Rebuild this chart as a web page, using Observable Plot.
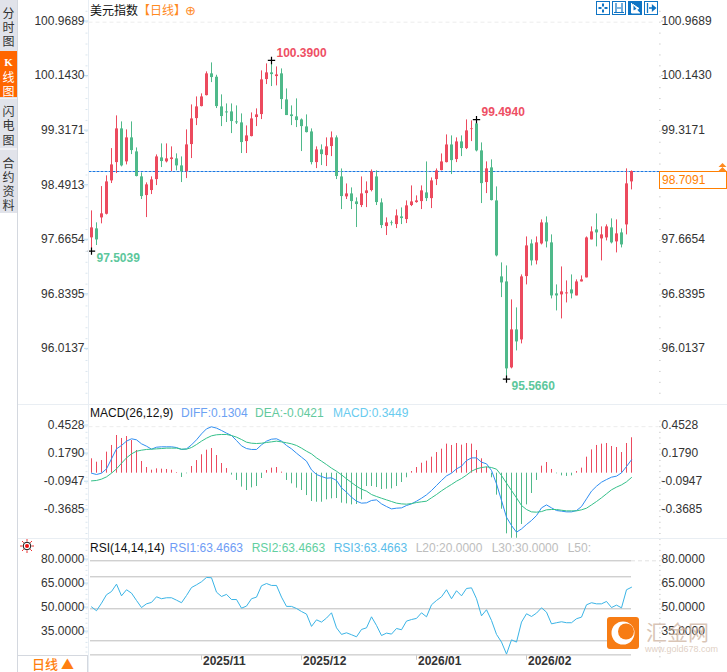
<!DOCTYPE html>
<html><head><meta charset="utf-8">
<script src="https://cdn.jsdelivr.net/npm/d3@7"></script>
<script src="https://cdn.jsdelivr.net/npm/@observablehq/plot@0.6"></script>
<style>
html,body{margin:0;padding:0;background:#fff;width:727px;height:672px;overflow:hidden}
body{position:relative;font-family:"Liberation Sans",Arial,sans-serif;font-size:12px}
.p{position:absolute;left:0}
.p svg{display:block;background:transparent}
.t{position:absolute;white-space:nowrap;line-height:14px}
.cn{font-family:"Noto Sans CJK SC",sans-serif}
.box{position:absolute}
</style></head><body>
<div id="price" class="p" style="top:0"></div>
<div id="macd" class="p" style="top:404px"></div>
<div id="rsi" class="p" style="top:538px"></div>
<script>
const opens=[97.705,97.841,98.007,98.062,98.567,98.844,99.354,98.855,99.218,99.006,
98.628,98.345,98.421,98.587,98.915,98.855,98.890,98.900,98.794,98.708,
99.117,99.510,99.692,99.858,100.187,100.136,99.687,99.611,99.611,99.460,
99.445,99.162,99.238,99.526,99.571,100.101,100.202,100.146,100.187,99.793,
99.566,99.536,99.490,99.384,99.308,98.844,99.036,98.950,99.087,99.218,
98.627,98.325,98.370,98.249,98.194,98.375,98.421,98.627,98.234,97.876,
97.931,97.906,98.022,97.982,98.194,98.239,98.254,98.385,98.299,98.587,
98.723,98.844,99.111,98.890,99.157,99.056,99.344,99.430,99.021,98.542,
98.764,98.264,97.114,97.038,95.737,96.312,96.160,97.119,97.613,97.356,
97.613,97.931,97.629,96.857,96.842,96.857,96.917,96.826,97.038,97.099,
97.674,97.825,97.689,97.704,97.856,97.644,97.780,97.901,98.552];
const closes=[97.856,97.674,98.068,98.552,98.809,99.354,98.794,99.218,99.026,98.633,
98.330,98.507,98.582,98.930,98.860,98.900,98.915,98.794,98.708,99.112,
99.505,99.687,99.838,100.187,100.131,99.692,99.541,99.596,99.465,99.445,
99.147,99.248,99.505,99.566,100.096,100.202,100.176,100.171,99.798,99.556,
99.541,99.480,99.389,99.298,98.844,99.036,98.965,99.082,99.218,98.633,
98.330,98.370,98.254,98.209,98.370,98.416,98.703,98.239,97.891,97.931,
97.921,98.037,97.997,98.189,98.249,98.264,98.416,98.299,98.567,98.718,
98.854,99.111,98.874,99.157,99.056,99.324,99.354,99.021,98.526,98.749,
98.269,97.432,97.023,95.722,96.312,96.130,97.114,97.583,97.356,97.629,
97.931,97.644,96.826,96.826,96.887,96.872,96.857,97.038,97.069,97.704,
97.795,97.780,97.750,97.871,97.629,97.765,97.598,98.522,98.7091];
const highs=[98.113,97.932,98.481,98.643,99.056,99.551,99.460,99.339,99.460,99.066,
98.688,98.537,98.628,98.960,99.127,99.127,99.082,98.976,98.930,99.339,
99.717,99.838,99.884,100.217,100.353,100.166,99.869,99.732,99.732,99.702,
99.581,99.399,99.596,99.657,100.232,100.338,100.39,100.292,100.262,99.959,
99.702,99.808,99.505,99.566,99.354,99.082,99.112,99.218,99.308,99.248,
98.748,98.521,98.461,98.310,98.627,98.552,98.733,98.718,98.295,98.007,
97.961,98.128,98.158,98.264,98.491,98.340,98.491,98.854,98.612,98.748,
98.975,99.263,99.248,99.218,99.248,99.490,99.475,99.494,99.142,98.855,
98.885,98.476,97.326,97.280,96.766,96.645,97.144,97.719,97.674,97.719,
97.977,98.022,97.750,96.993,97.265,97.053,97.144,97.069,97.129,97.719,
97.871,98.067,97.871,97.901,97.992,97.977,97.840,98.749,98.718];
const lows=[97.5039,97.589,97.917,98.052,98.527,98.678,98.779,98.809,98.965,98.628,
98.285,98.012,98.360,98.496,98.769,98.839,98.708,98.718,98.542,98.602,
98.905,99.404,99.687,99.853,100.055,99.662,99.389,99.450,99.283,99.420,
98.981,98.981,99.233,99.389,99.495,100.025,99.995,100.005,99.647,99.556,
99.404,99.374,99.011,99.293,98.809,98.753,98.799,98.784,98.935,98.587,
98.133,98.285,98.133,97.861,98.163,98.163,98.401,98.194,97.845,97.740,
97.886,97.845,97.906,97.921,98.178,98.229,98.133,98.254,98.148,98.496,
98.718,98.839,98.663,98.844,98.935,99.041,99.162,99.006,98.224,98.375,
98.264,97.417,96.801,95.566,95.722,95.994,96.100,96.993,97.280,97.296,
97.598,97.553,96.781,96.599,96.478,96.720,96.781,96.826,97.038,97.099,
97.674,97.568,97.356,97.659,97.613,97.477,97.553,97.750,98.431];
const macdBars=[0.140,0.107,0.123,0.205,0.270,0.367,0.338,0.357,0.318,0.221,
0.114,0.055,0.029,0.042,0.039,0.036,0.029,0.006,-0.042,-0.006,
0.065,0.123,0.179,0.224,0.240,0.172,0.094,0.045,-0.019,-0.071,
-0.136,-0.169,-0.143,-0.130,-0.052,0.026,0.049,0.055,0.010,-0.071,
-0.104,-0.146,-0.169,-0.218,-0.276,-0.283,-0.283,-0.260,-0.250,-0.247,
-0.292,-0.299,-0.309,-0.305,-0.260,-0.130,-0.130,-0.140,-0.159,-0.156,
-0.153,-0.130,-0.091,-0.045,0.016,0.055,0.097,0.117,0.156,0.201,
0.234,0.283,0.270,0.289,0.273,0.289,0.283,0.221,0.140,0.058,
-0.045,-0.214,-0.351,-0.591,-0.634,-0.634,-0.500,-0.309,-0.198,-0.071,
0.068,0.104,0.036,-0.006,-0.026,-0.032,-0.026,0.016,0.049,0.156,
0.227,0.270,0.283,0.289,0.260,0.250,0.201,0.289,0.3449];
const diff=[0,-0.013,0,0.042,0.140,0.237,0.270,0.312,0.335,0.325,
0.286,0.263,0.234,0.253,0.257,0.257,0.257,0.250,0.231,0.237,
0.276,0.325,0.383,0.432,0.452,0.439,0.416,0.390,0.367,0.318,
0.266,0.240,0.231,0.231,0.276,0.312,0.331,0.335,0.312,0.270,
0.237,0.195,0.156,0.117,0.032,-0.013,-0.032,-0.049,-0.045,-0.071,
-0.143,-0.185,-0.234,-0.273,-0.292,-0.289,-0.266,-0.260,-0.299,-0.325,
-0.348,-0.341,-0.338,-0.315,-0.299,-0.273,-0.244,-0.211,-0.169,-0.120,
-0.071,-0.026,0,0.042,0.068,0.123,0.149,0.149,0.107,0.091,
0.026,-0.104,-0.266,-0.429,-0.510,-0.575,-0.543,-0.500,-0.461,-0.413,
-0.338,-0.309,-0.338,-0.364,-0.370,-0.377,-0.377,-0.364,-0.325,-0.250,
-0.175,-0.127,-0.088,-0.062,-0.039,-0.029,0.003,0.065,0.1304];
const dea=[-0.075,-0.071,-0.058,-0.036,0,0.042,0.097,0.149,0.188,0.214,
0.224,0.231,0.234,0.237,0.240,0.244,0.244,0.244,0.234,0.234,
0.250,0.279,0.312,0.341,0.364,0.374,0.377,0.377,0.367,0.351,
0.328,0.302,0.292,0.289,0.292,0.299,0.305,0.312,0.305,0.296,
0.286,0.270,0.244,0.214,0.188,0.149,0.117,0.084,0.049,0.019,
-0.016,-0.055,-0.091,-0.127,-0.156,-0.175,-0.208,-0.227,-0.244,-0.260,
-0.276,-0.292,-0.299,-0.302,-0.296,-0.286,-0.279,-0.273,-0.240,-0.208,
-0.172,-0.140,-0.110,-0.078,-0.052,-0.019,0.019,0.042,0.055,0.062,
0.055,0.039,-0.023,-0.097,-0.169,-0.240,-0.315,-0.354,-0.377,-0.380,
-0.374,-0.357,-0.354,-0.354,-0.361,-0.367,-0.367,-0.367,-0.357,-0.341,
-0.309,-0.276,-0.240,-0.201,-0.162,-0.136,-0.114,-0.084,-0.0421];
const rsi=[51.2,48.8,53.5,58.8,60.8,65.4,58.1,61.9,59.8,55.2,
50.8,53.1,54.0,57.5,56.3,56.9,56.9,55.4,53.8,58.3,
63.3,65.0,66.9,69.6,69.4,60.4,57.7,59.0,55.8,55.8,
50.4,51.7,56.3,57.3,64.4,65.8,64.6,64.6,57.3,51.5,
51.5,50.2,48.3,46.7,39.0,43.1,41.7,44.2,47.5,38.1,
34.0,35.0,33.8,32.5,37.1,38.1,45.0,39.6,33.3,34.8,
34.2,37.7,36.9,42.3,43.3,44.0,47.5,45.0,52.5,55.2,
57.5,61.9,56.3,61.3,58.1,62.7,63.1,56.3,45.6,49.4,
42.7,34.0,29.2,21.7,30.6,29.2,41.7,46.9,45.2,47.3,
50.6,47.9,40.6,41.3,41.9,41.3,41.3,43.8,44.8,52.5,
53.8,53.1,53.1,54.6,50.8,52.3,50.6,61.9,63.4663];
const priceTicks=[100.9689,100.1430,99.3171,98.4913,97.6654,96.8395,96.0137];
const macdTicks=[0.4528,0.1790,-0.0947,-0.3685];
const rsiTicks=[80,65,50,35];
const rsiLevels=[80,70,50,30,21.2];
const extremeIdx=[36,77,0,83];
const extremeVal=[100.39,99.494,97.5039,95.566];
const lastPrice=98.7091;
const monthIdx=[22,42,65,87];
const monthLab=["2025/11","2025/12","2026/01","2026/02"];

const RED="#ec4a5e",GREEN="#4fb98a";
const xs={domain:[0,108],range:[91,631]};
const font='"Liberation Sans",Arial,sans-serif';
const base={width:727,marginLeft:88,marginRight:67,marginTop:0,marginBottom:0,
  x:{...xs,axis:null},style:{fontFamily:font,fontSize:"12px",background:"transparent",overflow:"visible"}};
const minors=(top,step,n)=>d3.range(n).map(k=>top-k*step);
const axes=(ticks,minor,dy,rightTicks=ticks)=>[
  Plot.ruleY(minor,{x1:-0.7,x2:-1.1,stroke:"#dbe6ee"}),
  Plot.ruleY(minor,{x1:113.65,x2:113.9,stroke:"#c4c4c4"}),
  Plot.axisY({anchor:"left",ticks,tickSize:4,tickPadding:0,dy,tickFormat:d=>d.toFixed(4),stroke:"#bcdcf0",fill:"#333",fontSize:12,label:null}),
  Plot.axisY({anchor:"right",ticks:rightTicks,tickSize:2,tickPadding:-1,dy,tickFormat:d=>d.toFixed(4),stroke:"#c4c4c4",fill:"#333",fontSize:12,label:null})
];

const rows=opens.map((o,i)=>({i,o,c:closes[i],h:highs[i],l:lows[i]}));
const up=rows.filter(d=>d.c>=d.o),dn=rows.filter(d=>d.c<d.o);
const ext=extremeIdx.map((i,k)=>({i,v:extremeVal[k],hi:k<2}));
const priceStep=(priceTicks[0]-priceTicks[6])/30;
document.getElementById("price").append(Plot.plot({...base,height:404,
  y:{domain:[100.9689,96.0137],range:[21.7,349.1],axis:null},
  marks:[
    Plot.ruleY([priceTicks[0]],{x1:-0.5,x2:112.5,stroke:"#ececec",strokeDasharray:"4,3"}),
    ...axes(priceTicks,minors(priceTicks[0]+priceStep,priceStep,36),-1.2,priceTicks.filter(v=>v!==98.4913)),
    Plot.ruleY([lastPrice],{x1:-0.5,x2:113.6,stroke:"#1b78e2",strokeWidth:1,strokeDasharray:"3,1"}),
    Plot.ruleX(up,{x:"i",y1:"l",y2:"h",stroke:RED,strokeWidth:1}),
    Plot.ruleX(dn,{x:"i",y1:"l",y2:"h",stroke:GREEN,strokeWidth:1}),
    Plot.ruleX(up,{x:"i",y1:"o",y2:"c",stroke:RED,strokeWidth:3}),
    Plot.ruleX(dn,{x:"i",y1:"o",y2:"c",stroke:GREEN,strokeWidth:3}),
    Plot.dot(ext,{x:"i",y:"v",symbol:"plus",r:2.5,stroke:"#000",strokeWidth:1.2}),
    Plot.text(ext.filter(d=>d.hi),{x:"i",y:"v",text:d=>d.v.toFixed(4),dx:5,dy:-7,textAnchor:"start",fill:"#ee4f64",fontWeight:"bold",fontSize:12}),
    Plot.text(ext.filter(d=>!d.hi),{x:"i",y:"v",text:d=>d.v.toFixed(4),dx:5,dy:7,textAnchor:"start",fill:"#5cc79c",fontWeight:"bold",fontSize:12})
  ]}));

const mrows=macdBars.map((v,i)=>({i,v,d:diff[i],e:dea[i]}));
const mStep=0.2738/5;
document.getElementById("macd").append(Plot.plot({...base,height:134,
  y:{domain:[0.4528,-0.3685],range:[22.2,106.5],axis:null},
  marks:[
    Plot.ruleY([0.4528],{x1:-0.5,x2:113.5,stroke:"#ececec",strokeDasharray:"4,3"}),
    ...axes(macdTicks,minors(0.4528+mStep,mStep,24),-1.7),
    Plot.ruleX(mrows.filter(d=>d.v>=0),{x:"i",y1:0,y2:"v",stroke:RED,strokeWidth:1}),
    Plot.ruleX(mrows.filter(d=>d.v<0),{x:"i",y1:0,y2:"v",stroke:GREEN,strokeWidth:1}),
    Plot.line(mrows,{x:"i",y:"d",stroke:"#2f8ef2",strokeWidth:1}),
    Plot.line(mrows,{x:"i",y:"e",stroke:"#35c08a",strokeWidth:1})
  ]}));

const rrows=rsi.map((v,i)=>({i,v}));
const rStep=3;
document.getElementById("rsi").append(Plot.plot({...base,height:134,
  y:{domain:[80,20],range:[22.3,118.3],axis:null},
  marks:[
    Plot.ruleY([80],{x1:108,x2:113.5,stroke:"#e2e2e2",strokeDasharray:"4,3"}),
    Plot.ruleY(rsiLevels,{x1:-0.2,x2:108,stroke:"#bdbdbd",strokeWidth:1}),
    ...axes(rsiTicks,minors(83,rStep,22),-1.7),
    Plot.line(rrows,{x:"i",y:"v",stroke:"#3ab4e6",strokeWidth:1}),
    Plot.ruleX(monthIdx,{y1:20.6,y2:17.8,stroke:"#c8c8c8"}),
    Plot.text(monthIdx,{x:d=>d,text:(d,k)=>monthLab[k],frameAnchor:"bottom",dy:-8,dx:1.5,textAnchor:"start",fontWeight:"bold",fill:"#333",fontSize:12})
  ]}));

// page furniture (tabs, headers, toolbar, watermark)
const CJK="font-family:'Noto Sans CJK SC',sans-serif;";
const el=(html)=>{const t=document.createElement("template");t.innerHTML=html.trim();document.body.append(t.content.firstChild)};
const box=(l,t,w,h,css)=>el(`<div class="box" style="left:${l}px;top:${t}px;width:${w}px;height:${h}px;${css}"></div>`);
const txt=(s,l,t,color,css="")=>el(`<div class="t" style="left:${l}px;top:${t}px;color:${color};${css}">${s}</div>`);
box(0,0,17,213,"background:#e1e3ea");
box(17,0,1,672,"background:#d4d8df");
box(88,0,1,672,"background:#e8eef4");
box(18,404,709,1,"background:#e9eef3");
box(18,538,709,1,"background:#e9eef3");
box(0,51,17,46,"background:#ff6600");
box(0,98,17,1,"background:#f1f1f4");box(0,148,17,2,"background:#f1f1f4");
const tab=(ch,ys,color,extra="")=>[...ch].forEach((c,k)=>el(`<div class="t cn" style="left:0;width:17px;text-align:center;top:${ys[k]-6}px;line-height:12px;height:12px;color:${color};font-size:12px;${extra}">${c}</div>`));
tab("分时图",[13,27,41],"#333");
tab("K",[62],"#fff","font-family:'Liberation Serif';font-weight:bold;font-size:11px;");
tab("线",[77],"#fff");tab("图",[91],"#fff");
tab("闪电图",[111,125,140],"#333");
tab("合约资料",[163,177,191,205],"#333");
txt("美元指数",90,3,"#111",CJK+"font-size:12px");
txt("【日线】",138,3,"#ff8a1e",CJK+"font-size:12px");
txt("⊕",185,4,"#ff8a1e","font-size:13px;font-family:'DejaVu Sans'");
txt("MACD(26,12,9)",90,406,"#111");
txt("DIFF:0.1304",181,406,"#6ba1f3");
txt("DEA:-0.0421",255,406,"#63c99d");
txt("MACD:0.3449",333,406,"#68cbef");
txt("RSI(14,14,14)",90,541,"#111");
txt("RSI1:63.4663",169.6,541,"#6f9cf5");
txt("RSI2:63.4663",251.7,541,"#62cfa0");
txt("RSI3:63.4663",333.7,541,"#5bbdea");
txt("L20:20.0000",415.7,541,"#bdbdbd");
txt("L30:30.0000",491.7,541,"#bdbdbd");
txt("L50:",567.7,541,"#bdbdbd");
box(659,171,66,16,"border:1px solid #ff7f00;border-right:1px solid #ff7f00;background:#fff");
txt("98.7091",662,173,"#ff7f00");
el(`<svg style="position:absolute;left:718px;top:163px" width="9" height="9"><path d="M4.5 0L8.5 4H.5ZM4.5 4L9 8.5H0Z" fill="#ff8a1e"/></svg>`);
el(`<div class="box" style="left:18px;top:655px;width:70px;height:17px;background:#fff;border-top:1px solid #d4d8df;border-right:1px solid #d4d8df;box-sizing:border-box"></div>`);
txt("日线 ▲",32,657,"#ff7f10",CJK+"font-size:13px;font-weight:500");
el(`<svg style="position:absolute;left:20px;top:539px" width="14" height="14" viewBox="0 0 14 14"><g stroke="#e33" stroke-width="1"><path d="M7 0V2.5M7 11.5V14M0 7H2.5M11.5 7H14M2 2L3.8 3.8M12 2L10.2 3.8M2 12L3.8 10.2M12 12L10.2 10.2"/></g><circle cx="7" cy="7" r="3.8" fill="#fff" stroke="#111"/><circle cx="7" cy="7" r="2" fill="#e11"/></svg>`);
const icon=(x,inner,fill)=>el(`<svg style="position:absolute;left:${x}px;top:1px" width="14" height="14" viewBox="0 0 14 14"><rect x=".5" y=".5" width="13" height="13" fill="${fill?'#0f74c4':'#fff'}" stroke="#0f74c4"/>${inner}</svg>`);
icon(596,'<path d="M7 2.5V5.5M7 8.5V11.5M2.5 7H5.5M8.5 7H11.5" stroke="#0f74c4" stroke-width="2"/>',false);
icon(612,'<path d="M2 11.5H12M4 2V11.5M10 2V11.5M5 7H9" stroke="#0f74c4" stroke-width="1.2"/>',false);
icon(628,'<path d="M3.5 2V12H12M5 3.5L11 7.5L5 10Z" fill="#fff" stroke="#fff"/>',true);
icon(644,'<path d="M3.5 2V12M5 7H11M8.5 4.5L11.5 7L8.5 9.5Z" stroke="#0f74c4" fill="#0f74c4" stroke-width="1.3"/>',false);
el(`<svg style="position:absolute;left:607px;top:617px" width="32" height="32" viewBox="0 0 32 32"><rect width="32" height="32" rx="3" fill="#f77c14"/><circle cx="16" cy="16" r="11.5" fill="#fff"/><circle cx="19" cy="14.5" r="8" fill="#f77c14"/></svg>`);
txt("汇金网",646,619,"rgba(205,178,158,.75)",CJK+"font-size:21px;line-height:24px");
txt("www.gold678.com",645,642,"rgba(215,195,180,.8)","font-size:9px");
</script>
</body></html>
